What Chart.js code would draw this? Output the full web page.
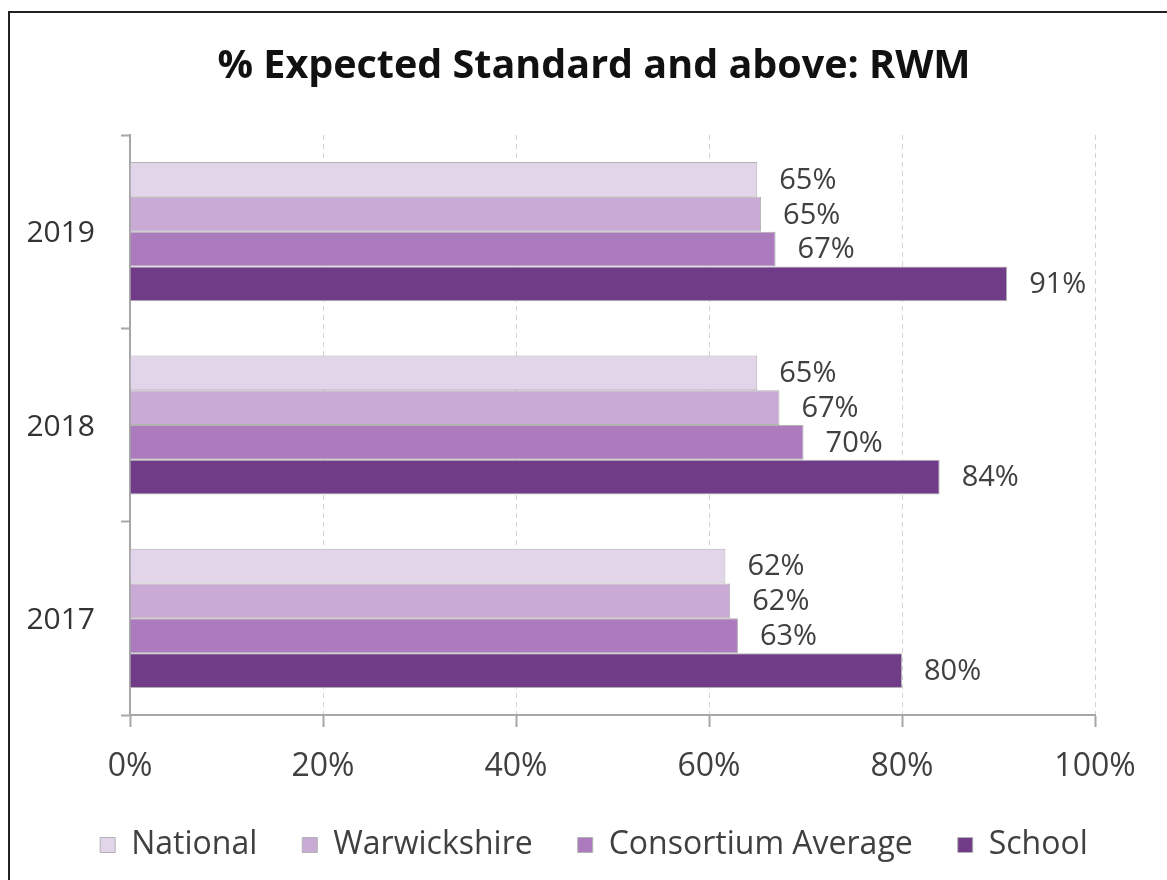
<!DOCTYPE html>
<html>
<head>
<meta charset="utf-8">
<script src="https://cdn.jsdelivr.net/npm/chart.js@4/dist/chart.umd.min.js"></script>
<style>
  html, body { margin: 0; padding: 0; background: #fff; overflow: hidden; }
  #frame {
    position: absolute; left: 8px; top: 11px;
    width: 1200px; height: 900px;
    border-left: 2px solid #222; border-top: 2px solid #222;
  }
  #companyChart { position: absolute; left: 0; top: 0; }
</style>
</head>
<body>
<div id="frame"></div>
<canvas id="companyChart" width="1167" height="880"></canvas>
<script>

const years = ["2019", "2018", "2017"];

const national = [65.0, 65.0, 61.7];
const warwickshire = [65.4, 67.3, 62.2];
const consortium = [66.9, 69.8, 63.0];
const school = [90.9, 83.9, 80.0];

const xTicks = [0, 20, 40, 60, 80, 100];

const fontName = "'Open Sans', 'Noto Sans', sans-serif";

// numbers at the end of each bar
const barLabels = {
    id: "barLabels",
    afterDatasetsDraw(chart){
        const ctx = chart.ctx;
        ctx.save();
        ctx.font = "29px " + fontName;
        ctx.fillStyle = "#404040";
        ctx.textAlign = "left";
        ctx.textBaseline = "middle";
        chart.data.datasets.forEach((ds, i) => {
            chart.getDatasetMeta(i).data.forEach((bar, j) => {
                ctx.fillText(Math.round(ds.data[j]) + "%", bar.x + 22, bar.y + 1);
            });
        });
        ctx.restore();
    }
};

const ctx =
document.getElementById("companyChart");

new Chart(ctx,{

    type:"bar",

    data:{
        labels: years,
        datasets:[
            { label:"National", data: national, backgroundColor:"#e2d5ea" },
            { label:"Warwickshire", data: warwickshire, backgroundColor:"#c9aad5" },
            { label:"Consortium Average", data: consortium, backgroundColor:"#ab7bbd" },
            { label:"School", data: school, backgroundColor:"#703c87" }
        ]
    },

    options:{
        responsive:false,
        animation:false,
        indexAxis:"y",
        layout:{ padding:{ left:21, right:0, top:0, bottom:9 } },
        datasets:{
            bar:{
                borderColor:"#b2b2b2",
                borderWidth:1,
                categoryPercentage:0.72,
                barPercentage:1
            }
        },
        plugins:{
            title:{
                display:true,
                text:"% Expected Standard and above: RWM",
                color:"#111",
                font:{ family:fontName, size:39.5, weight:"bold", lineHeight:1.2 },
                padding:{ top:43, bottom:44.6 }
            },
            legend:{
                position:"bottom",
                labels:{
                    color:"#404040",
                    font:{ family:fontName, size:32 },
                    boxWidth:15,
                    boxHeight:15,
                    padding:45
                }
            },
            tooltip:{ enabled:false }
        },
        scales:{
            x:{
                min:0,
                max:100,
                afterBuildTicks: scale => {
                    scale.ticks = xTicks.map(v => ({ value:v }));
                },
                afterFit: scale => { scale.height = 69; },
                grid:{
                    color:"#d4d4d4",
                    lineWidth:1,
                    tickLength:12,
                    tickColor:"#a6a6a6",
                    tickWidth:2,
                    tickBorderDash:[]
                },
                border:{ display:true, color:"#a6a6a6", width:2, dash:[5,4] },
                ticks:{
                    color:"#404040",
                    padding:21,
                    font:{ family:fontName, size:32 },
                    callback: v => v + "%"
                }
            },
            y:{
                afterFit: scale => { scale.width = 109; },
                grid:{
                    drawOnChartArea:false,
                    tickLength:9,
                    tickColor:"#a6a6a6",
                    tickWidth:2
                },
                border:{ color:"#a6a6a6", width:2 },
                ticks:{
                    color:"#333",
                    padding:26,
                    labelOffset:2,
                    font:{ family:fontName, size:30 }
                }
            },
            // empty strip on the right so the plot stops at 100%
            spacer:{
                type:"linear",
                position:"right",
                afterFit: scale => { scale.width = 72; },
                grid:{ display:false },
                border:{ display:false },
                ticks:{ display:false }
            }
        }
    },

    plugins:[barLabels]

});

</script>
</body>
</html>
